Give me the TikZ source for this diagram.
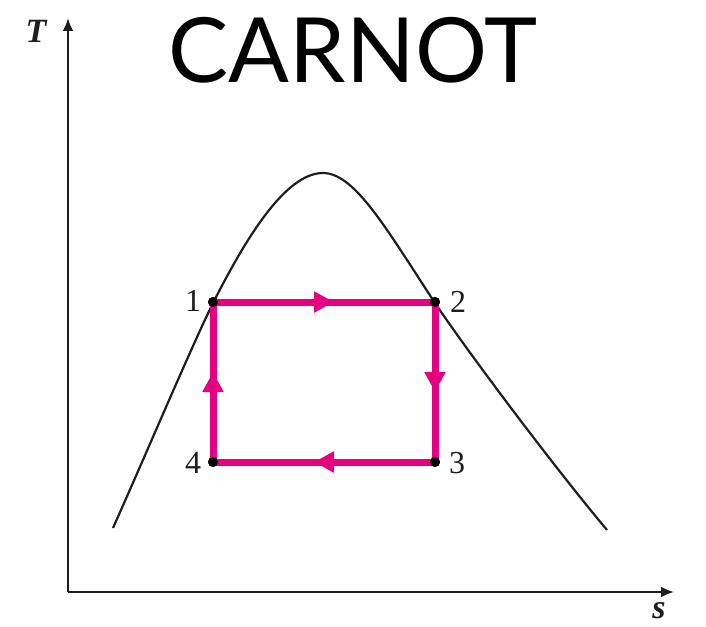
\documentclass[tikz,border=0pt]{standalone}
\usepackage{fontspec}
\setmainfont{Liberation Serif}
\newfontfamily\titlefont{Lato}
\usetikzlibrary{arrows.meta,decorations.markings}
\definecolor{cyclecol}{RGB}{228,0,128}
\definecolor{inkcol}{RGB}{30,30,30}
\tikzset{
  axisline/.style={draw=inkcol,line width=1.2pt,-{Latex[length=6.5pt,width=5.5pt]}},
  domecurve/.style={draw=inkcol,line width=1.1pt},
  statedot/.style={circle,fill=black,inner sep=0pt,minimum size=5pt},
  statelbl/.style={font=\fontsize{16}{16}\selectfont,text=inkcol,inner sep=0pt},
  axislbl/.style={font=\fontsize{17}{17}\selectfont\bfseries\itshape,text=inkcol,inner sep=0pt},
  cycleedge/.style={draw=cyclecol,line width=3.5pt,
    postaction={decorate,decoration={markings,
      mark=at position 0.5 with {\arrow[cyclecol,xshift=5pt]{Triangle[length=10pt,width=10pt]}}}}}
}
\begin{document}
\begin{tikzpicture}[x=0.5pt,y=-0.5pt]
\useasboundingbox (0,0) rectangle (706,626);
% axes
\coordinate (origin) at (68,592);
\coordinate (ytip) at (68,18);
\coordinate (xtip) at (674,592);
\draw[axisline] (origin) -- (ytip);
\draw[axisline] (origin) -- (xtip);
\node[axislbl] (tlbl) at (36,31) {T};
\node[axislbl] (slbl) at (659,611) {s};
% title
\node[font=\titlefont\fontsize{45}{45}\selectfont,inner sep=0pt] (title) at (353,50) {CARNOT};
% dome
\draw[domecurve] (113,528) .. controls (150,445) and (190,350) .. (213,303)
  .. controls (245,240) and (285,173) .. (323,173)
  .. controls (355,173) and (387,230) .. (435,303)
  .. controls (470,355) and (555,468) .. (607,530);
% states
\node[statedot] (p1) at (213,302) {};
\node[statedot] (p2) at (435,302) {};
\node[statedot] (p3) at (435,462) {};
\node[statedot] (p4) at (213,462) {};
\draw[cycleedge] (p1.center) -- (p2.center);
\draw[cycleedge] (p2.center) -- (p3.center);
\draw[cycleedge] (p3.center) -- (p4.center);
\draw[cycleedge] (p4.center) -- (p1.center);
\node[statedot] at (p1) {};
\node[statedot] at (p2) {};
\node[statedot] at (p3) {};
\node[statedot] at (p4) {};
\node[statelbl] (l1) at (193,301) {1};
\node[statelbl] (l2) at (458,302) {2};
\node[statelbl] (l3) at (457,463) {3};
\node[statelbl] (l4) at (193,463) {4};
\end{tikzpicture}
\end{document}
